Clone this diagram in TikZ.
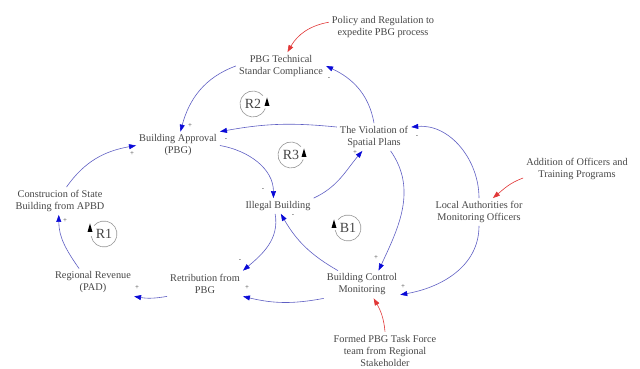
\documentclass[tikz,border=0pt]{standalone}
\usepackage{fontspec}
\setmainfont{Liberation Serif}
\definecolor{linkblue}{RGB}{95, 95, 195}
\definecolor{headblue}{RGB}{10, 10, 215}
\definecolor{policyred}{RGB}{225, 55, 55}
\definecolor{labelgray}{RGB}{70, 70, 70}
\definecolor{ringgray}{RGB}{150, 150, 150}
\usetikzlibrary{arrows.meta}

\begin{document}
\begin{tikzpicture}[x=1pt, y=1pt,
  var/.style={text=labelgray, align=center, inner sep=3pt, font=\fontsize{10.3}{12}\selectfont},
  link/.style={draw=linkblue, line width=0.6pt, -{Triangle[length=7pt, width=5pt, color=headblue]}},
  policy/.style={draw=policyred, line width=0.6pt, -{Triangle[length=7pt, width=5pt, color=policyred]}},
  sgn/.style={text=labelgray, inner sep=0pt, font=\fontsize{7}{7}\selectfont},
  loopname/.style={text=labelgray, inner sep=0pt, font=\fontsize{14}{14}\selectfont},
  loopring/.style={draw=ringgray, line width=0.6pt}]
  \useasboundingbox (0,0) rectangle (640,369);

  % Approval side
  \node[var] (ptsc) at (281,303) {PBG Technical\\Standar Compliance};
  \node[var] (prp) at (383,342) {Policy and Regulation to\\expedite PBG process};
  \node[var] (ba) at (178,223.5) {Building Approval\\(PBG)};
  \node[var] (vsp) at (374,232) {The Violation of\\Spatial Plans};
  \node[var] (ib) at (278,163) {Illegal Building};

  % Revenue side
  \node[var] (csb) at (60,168) {Construcion of State\\Building from APBD};
  \node[var] (rr) at (93,86.5) {Regional Revenue\\(PAD)};
  \node[var] (rpbg) at (205,85.5) {Retribution from\\PBG};

  % Monitoring side
  \node[var] (bcm) at (362,84.5) {Building Control\\Monitoring};
  \node[var] (la) at (479,157) {Local Authorities for\\Monitoring Officers};
  \node[var] (aotp) at (577,200.5) {Addition of Officers and\\Training Programs};
  \node[var] (fptf) at (385,18.5) {Formed PBG Task Force\\team from Regional\\Stakeholder};

  % Causal links
  \draw[link] (rr.135) to[out=125, in=-90] (csb.-95);
  \draw[link] (csb.65) to[out=55, in=190] (ba.west);
  \draw[link] (rpbg.south west) to[bend left=10] (rr.south east);
  \draw[link] (ib.-110) to[out=-80, in=40] (rpbg.north east);
  \draw[link] (bcm.south west) to[bend left=12] (rpbg.south east);
  \draw[link] (bcm.150) to[bend left=15] (ib.-70);
  \draw[link] (vsp.-40) to[out=-55, in=65] (bcm.40);
  \draw[link] (la.north) to[out=90, in=5] (vsp.15);
  \draw[link] (la.south) to[out=-90, in=10] (bcm.-15);
  \draw[link] (vsp.north) to[out=100, in=-25] (ptsc.east);
  \draw[link] (ptsc.west) to[out=200, in=75] (ba.80);
  \draw[link] (vsp.165) to[bend right=8] (ba.north east);
  \draw[link] (ba.east) to[out=-10, in=90] (ib.120);
  \draw[link] (ib.north east) to[out=25, in=-130] (vsp.-130);

  % Policy levers
  \draw[policy] (prp.175) to[out=190, in=60] (ptsc.65);
  \draw[policy] (aotp.190) to[out=200, in=40] (la.45);
  \draw[policy] (fptf.north) to[out=95, in=-60] (bcm.-50);

  % Link polarities
  \node[sgn] (s1) at (65,148) {+};
  \node[sgn] (s2) at (132,215) {+};
  \node[sgn] (s3) at (137,81) {+};
  \node[sgn] (s4) at (240,108) {-};
  \node[sgn] (s5) at (247,81) {+};
  \node[sgn] (s6) at (293,153) {-};
  \node[sgn] (s7) at (376,111) {+};
  \node[sgn] (s8) at (417,232) {-};
  \node[sgn] (s9) at (403,82) {+};
  \node[sgn] (s10) at (329,290) {-};
  \node[sgn] (s11) at (190,243) {+};
  \node[sgn] (s12) at (226,229) {-};
  \node[sgn] (s13) at (263,179) {-};
  \node[sgn] (s14) at (355,216) {+};

  % Loop markers
  \node[loopname] (r1) at (104,135) {R1};
  \draw[loopring] ([shift={(190:13)}]r1.center) arc[start angle=190, end angle=500, radius=13];
  \fill (87.5,137) -- (90,145.5) -- (92.5,137) -- cycle;

  \node[loopname] (r2) at (253,265) {R2};
  \draw[loopring] ([shift={(40:13)}]r2.center) arc[start angle=40, end angle=340, radius=13];
  \fill (264.5,263) -- (267,271.5) -- (269.5,263) -- cycle;

  \node[loopname] (r3) at (291,214) {R3};
  \draw[loopring] ([shift={(40:13)}]r3.center) arc[start angle=40, end angle=340, radius=13];
  \fill (301.5,212) -- (304,220.5) -- (306.5,212) -- cycle;

  \node[loopname] (b1) at (348,141) {B1};
  \draw[loopring] ([shift={(190:13)}]b1.center) arc[start angle=190, end angle=500, radius=13];
  \fill (331.5,141) -- (334,149.5) -- (336.5,141) -- cycle;
\end{tikzpicture}
\end{document}
